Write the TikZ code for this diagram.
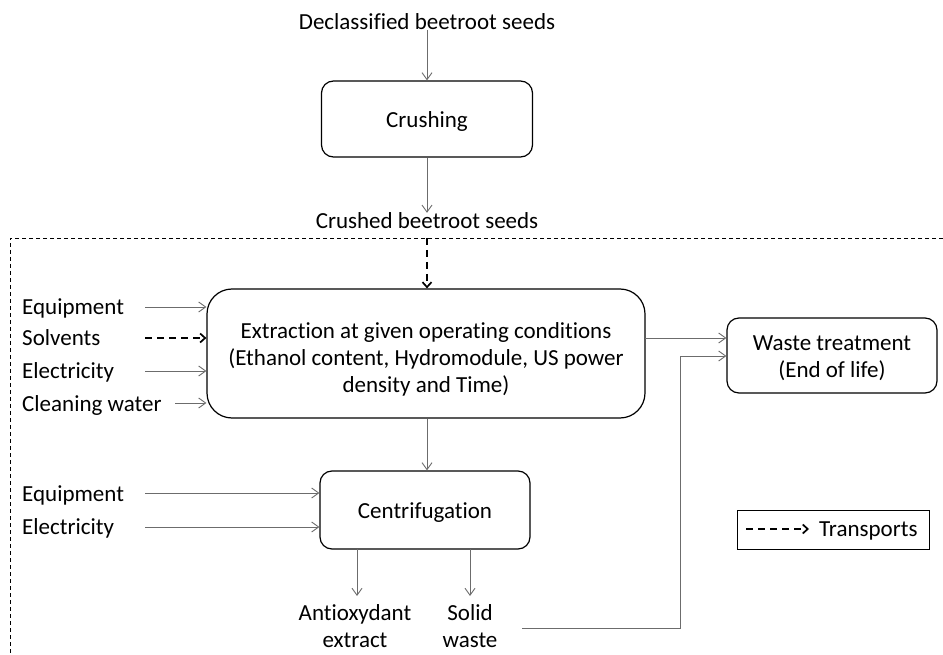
\documentclass[tikz,border=0pt]{standalone}
\usepackage{fontspec}
\setmainfont{Carlito}[Ligatures={NoCommon,NoRare,NoContextual}]
\usetikzlibrary{arrows.meta}
\begin{document}
\begin{tikzpicture}[x=1pt,y=-1pt,
  every node/.style={font=\fontsize{23}{27}\selectfont, inner sep=0pt},
  procbox/.style={draw=black, line width=1.2pt, rounded corners=12pt, align=center},
  flow/.style={draw=gray!85!black, line width=0.9pt, -{Straight Barb[length=7pt,width=10pt]}},
  transp/.style={draw=black, line width=1.7pt, dash pattern=on 7pt off 5pt, -{Straight Barb[length=5pt,width=9pt,line width=1.7pt]}},
  frameline/.style={draw=black, line width=0.8pt, dash pattern=on 4pt off 3pt},
  lbl/.style={anchor=base west},
]
\useasboundingbox (0,0) rectangle (943,655);

% top chain
\node[anchor=base] (decl) at (427,30) {Declassified beetroot seeds};
\node[procbox, text height=20pt, minimum width=211pt, minimum height=76pt] (crush) at (427,119) {Crushing};
\node[anchor=base] (crushed) at (427,229) {Crushed beetroot seeds};

% system boundary (open dashed frame)
\coordinate (ftl) at (10,238);
\coordinate (ftr) at (943,238);
\coordinate (fbl) at (10,655);
\draw[frameline] (ftr) -- (ftl) -- (fbl);

% process boxes
\node[procbox, rounded corners=25pt, text height=82pt, minimum width=438pt, minimum height=129pt] (extr) at (426,353.5)
  {Extraction at given operating conditions\\(Ethanol content, Hydromodule, US power\\density and Time)};
\node[procbox, text height=47pt, minimum width=210pt, minimum height=75pt] (waste) at (832,355.5)
  {Waste treatment\\(End of life)};
\node[procbox, text height=21pt, minimum width=210pt, minimum height=78pt] (centr) at (425,510) {Centrifugation};

% inputs to extraction
\node[lbl] (eq1) at (22,315) {Equipment};
\node[lbl] (solv) at (22,345) {Solvents};
\node[lbl] (el1) at (22,378) {Electricity};
\node[lbl] (cw) at (22,411) {Cleaning water};
\coordinate (a1) at (145,307);
\coordinate (a2) at (145,338);
\coordinate (a3) at (145,371);
\coordinate (a4) at (175,403);
\draw[flow] (a1) -- (a1 -| extr.west);
\draw[transp] (a2) -- (a2 -| extr.west);
\draw[flow] (a3) -- (a3 -| extr.west);
\draw[flow] (a4) -- (a4 -| extr.west);

% inputs to centrifugation
\node[lbl] (eq2) at (22,501) {Equipment};
\node[lbl] (el2) at (22,534) {Electricity};
\coordinate (b1) at (145,493);
\coordinate (b2) at (145,527);
\draw[flow] (b1) -- (b1 -| centr.west);
\draw[flow] (b2) -- (b2 -| centr.west);

% outputs of centrifugation
\node[align=center, anchor=north] (anti) at (355,604) {Antioxydant\\extract};
\node[align=center, anchor=north] (solid) at (470,604) {Solid\\waste};
\coordinate (c1) at (357,549);
\coordinate (c2) at (470,549);
\draw[flow] (c1) -- (357,596);
\draw[flow] (c2) -- (470,596);

% main chain arrows
\draw[flow] (decl) -- (crush);
\draw[flow] (crush) -- (crushed);
\draw[transp] (427,238) -- (extr.north -| 427,0);
\draw[flow] (extr.south -| 427,0) -- (centr.north -| 427,0);

% to waste treatment
\coordinate (e1) at (645,338);
\draw[flow] (e1) -- (e1 -| waste.west);
\coordinate (sw) at (522,628);
\coordinate (bend) at (680,356);
\draw[flow] (sw) -| (bend) -- (bend -| waste.west);

% legend
\node[draw=black, line width=0.9pt, minimum width=192pt, minimum height=39pt] (legend) at (833,529.5) {};
\node[lbl] (ltext) at (819,536) {Transports};
\coordinate (l1) at (746,529);
\draw[transp] (l1) -- (l1 -| 809,0);
\end{tikzpicture}
\end{document}
